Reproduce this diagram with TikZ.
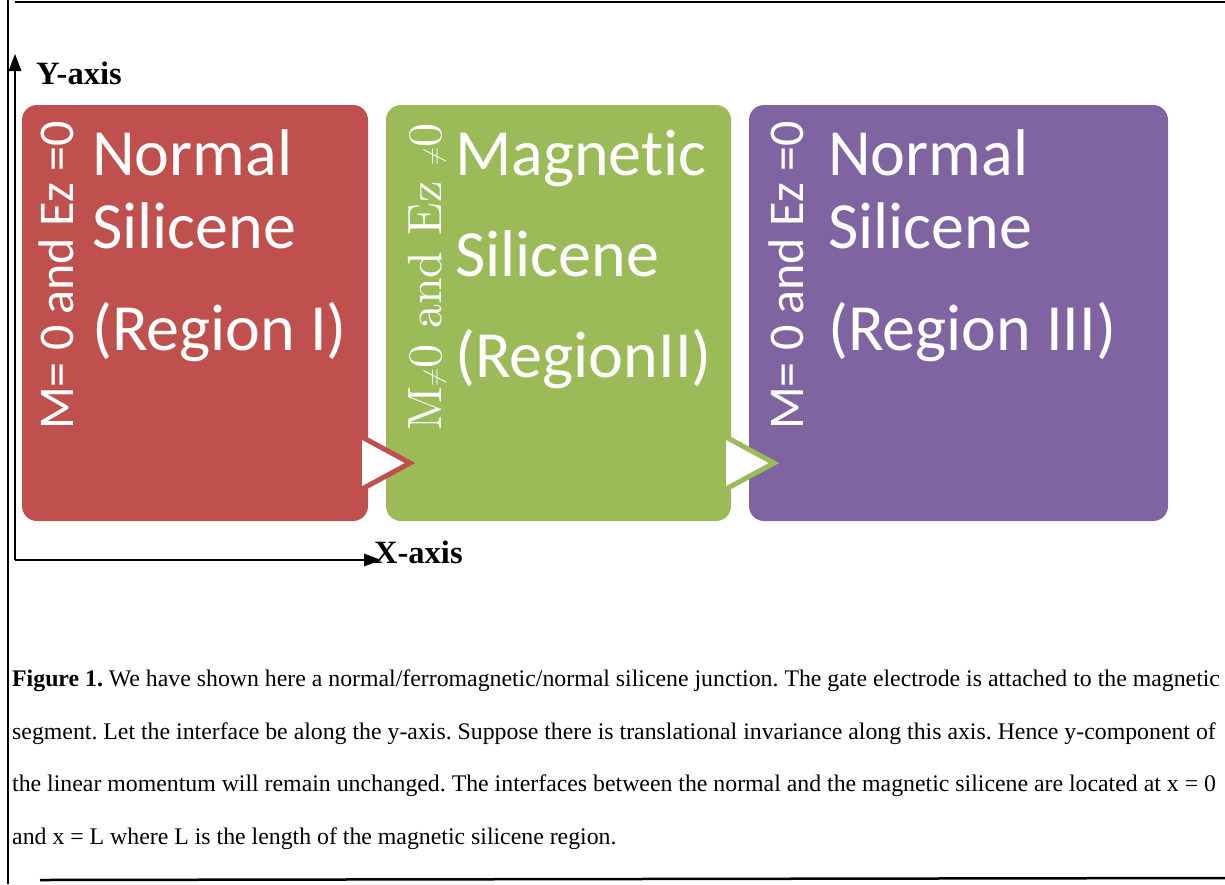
\documentclass[tikz,border=0pt]{standalone}
\usepackage{fontspec}
\setmainfont{Liberation Serif}
\newfontfamily\boxfont[Ligatures=NoCommon]{Carlito}
\newfontfamily\lmfont{lmroman10-regular.otf}
\frenchspacing
\definecolor{regred}{HTML}{C0504D}
\definecolor{reggreen}{HTML}{9BBB59}
\definecolor{regpurple}{HTML}{8064A2}
\tikzset{
  regionbox/.style={rounded corners=15pt, inner sep=0pt},
  bigtext/.style={text=white, anchor=base west, inner sep=0pt, font=\boxfont\fontsize{66}{66}\selectfont},
  sidetext/.style={text=white, anchor=base west, rotate=90, inner sep=0pt},
  chevron/.style={line width=5pt, line join=miter},
  axisline/.style={line width=1.5pt},
  axislabel/.style={font=\bfseries\fontsize{32.5}{32.5}\selectfont, inner sep=0pt},
  capline/.style={anchor=base west, inner sep=0pt, font=\fontsize{23.8}{23.8}\selectfont}
}
\begin{document}
\begin{tikzpicture}[x=1pt, y=-1pt]
    \useasboundingbox (0,0) rectangle (1225,884);

    % 1. Khung ngoai
    \draw[line width=2pt] (15,2) -- (1225,2);
    \draw[line width=1.5pt] (8,0) -- (8,884);
    \draw[line width=2.5pt] (40,880) -- (1225,878);

    % 2. Ba vung silicene
    \fill[regionbox, regred] (22,105) rectangle (368,521);
    \fill[regionbox, reggreen] (386,105) rectangle (731,521);
    \fill[regionbox, regpurple] (749,105) rectangle (1168,521);

    % 3. Mui ten noi giua cac vung
    \fill[white] (362,437) -- (410,463) -- (362,489) -- cycle;
    \draw[chevron, regred] (362,437) -- (410,463) -- (362,489);
    \fill[white] (726,437) -- (774,463) -- (726,489) -- cycle;
    \draw[chevron, reggreen] (726,437) -- (774,463) -- (726,489);

    % 4. Chu trong vung I
    \node[sidetext, font=\boxfont\fontsize{50}{50}\selectfont] (m1) at (73,430) {M= 0 and Ez =0};
    \node[bigtext] (n1a) at (92,175) {Normal};
    \node[bigtext] (n1b) at (92,248) {Silicene};
    \node[bigtext] (n1c) at (92,350) {(Region I)};

    % Chu trong vung II
    \node[sidetext, font=\lmfont\fontsize{48}{48}\selectfont] (m2) at (441,431) {M$\neq$0 and Ez $\neq$0};
    \node[bigtext] (n2a) at (455,175) {Magnetic};
    \node[bigtext] (n2b) at (455,276) {Silicene};
    \node[bigtext] (n2c) at (455,377) {(RegionII)};

    % Chu trong vung III
    \node[sidetext, font=\boxfont\fontsize{50}{50}\selectfont] (m3) at (803,430) {M= 0 and Ez =0};
    \node[bigtext] (n3a) at (828,175) {Normal};
    \node[bigtext] (n3b) at (828,248) {Silicene};
    \node[bigtext] (n3c) at (828,350) {(Region III)};

    % 5. He truc (dau mui ten to bang tam giac)
    \coordinate (o) at (15,560);
    \coordinate (ytip) at (15,54);
    \coordinate (ybase) at (15,71);
    \coordinate (xtip) at (381,560);
    \coordinate (xbase) at (364,560);
    \draw[axisline] (o) -- (ybase);
    \draw[axisline] (o) -- (xbase);
    \fill (ytip) -- ([xshift=-6.5pt]ybase) -- ([xshift=6.5pt]ybase) -- cycle;
    \fill (xtip) -- ([yshift=-6.5pt]xbase) -- ([yshift=6.5pt]xbase) -- cycle;
    \node[axislabel, anchor=base west] (ylab) at (36,84) {Y-axis};
    \node[axislabel, anchor=base west] (xlab) at (374,563) {X-axis};

    % 6. Chu thich hinh
    \node[capline] (c1) at (12,686) {\textbf{Figure 1.} We have shown here a normal/ferromagnetic/normal silicene junction. The gate electrode is attached to the magnetic};
    \node[capline] (c2) at (12,739) {segment. Let the interface be along the y-axis. Suppose there is translational invariance along this axis. Hence y-component of};
    \node[capline] (c3) at (12,791) {the linear momentum will remain unchanged. The interfaces between the normal and the magnetic silicene are located at x = 0};
    \node[capline] (c4) at (12,844) {and x = L where L is the length of the magnetic silicene region.};
\end{tikzpicture}
\end{document}
